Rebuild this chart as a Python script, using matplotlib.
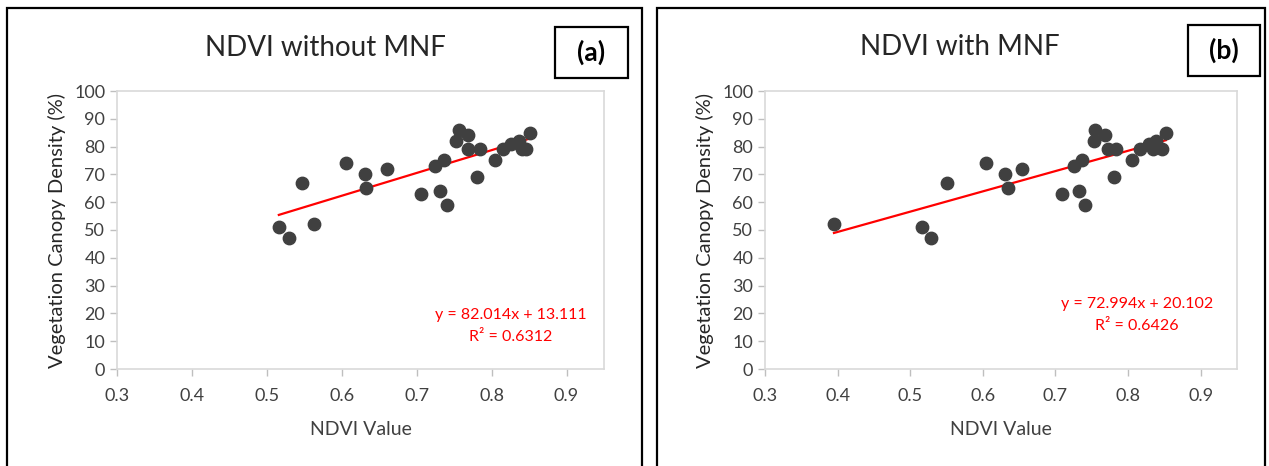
import matplotlib.pyplot as plt
from matplotlib.patches import Rectangle
import numpy as np

plt.rcParams['font.family'] = ['Lato', 'DejaVu Sans']

# canopy density (%) - same field plots in both panels
density = [51, 47, 67, 52, 74, 70, 65, 72, 63, 73, 64, 75, 59,
           82, 86, 84, 79, 69, 79, 75, 79, 81, 82, 79, 79, 85]

# NDVI without MNF
ndvi_raw = [0.516, 0.529, 0.547, 0.563, 0.605, 0.631, 0.633, 0.660, 0.706,
            0.725, 0.731, 0.736, 0.740, 0.752, 0.757, 0.769, 0.769, 0.781,
            0.784, 0.804, 0.815, 0.826, 0.837, 0.841, 0.846, 0.851]

# NDVI with MNF
ndvi_mnf = [0.516, 0.529, 0.550, 0.395, 0.605, 0.631, 0.634, 0.654, 0.709,
            0.726, 0.732, 0.737, 0.740, 0.753, 0.755, 0.768, 0.772, 0.780,
            0.783, 0.806, 0.817, 0.829, 0.838, 0.834, 0.847, 0.852]

# trendline coefficients (slope, intercept, R2) as printed on the chart
fit_raw = (82.014, 13.111, 0.6312)
fit_mnf = (72.994, 20.102, 0.6426)

xticks = [0.3, 0.4, 0.5, 0.6, 0.7, 0.8, 0.9]
yticks = list(range(0, 101, 10))

W, H = 1269, 466
fig = plt.figure(figsize=(W / 100, H / 100), dpi=100)


def px(x0, y0, x1, y1):
    # pixel box -> figure fraction [left, bottom, width, height]
    return [x0 / W, 1 - y1 / H, (x1 - x0) / W, (y1 - y0) / H]


def panel(box, ax_box, title, title_xy, tag, tag_box, x, y, fit, eq_xy):
    # outer black frame
    fig.patches.append(Rectangle((box[0] / W, -0.1), (box[1] - box[0]) / W,
                                 1.1 - box[2] / H, transform=fig.transFigure,
                                 fill=False, ec='black', lw=1.6))
    # tag box
    tx0, ty0, tx1, ty1 = tag_box
    fig.patches.append(Rectangle((tx0 / W, 1 - ty1 / H), (tx1 - tx0) / W,
                                 (ty1 - ty0) / H, transform=fig.transFigure,
                                 fill=False, ec='black', lw=1.6))
    fig.text((tx0 + tx1) / 2 / W, 1 - (ty0 + ty1) / 2 / H, tag, ha='center',
             va='center', fontsize=19, fontweight='bold')
    fig.text(title_xy[0] / W, 1 - title_xy[1] / H, title, ha='center',
             va='center', fontsize=20, color='#262626')

    ax = fig.add_axes(px(*ax_box))
    ax.scatter(x, y, s=80, color='#404040', zorder=3)
    m, b, r2 = fit
    xs = np.array([min(x), max(x)])
    ax.plot(xs, m * xs + b, color='red', lw=1.6, zorder=2)
    ax.text(eq_xy[0], eq_xy[1], f'y = {m:.3f}x + {b:.3f}\nR² = {r2:.4f}',
            color='red', ha='center', va='center', fontsize=11.5,
            linespacing=1.75)

    ax.set_xlim(0.3, 0.95)
    ax.set_ylim(0, 100)
    ax.set_xticks(xticks)
    ax.set_xticklabels([f'{t:.1f}' for t in xticks])
    ax.set_yticks(yticks)
    for s in ax.spines.values():
        s.set_color('#d9d9d9')
        s.set_linewidth(1.2)
    ax.tick_params(colors='#404040', labelsize=13, length=5, width=1,
                   color='#bfbfbf')
    ax.tick_params(axis='x', pad=9)
    ax.set_xlabel('NDVI Value', fontsize=14, color='#404040', labelpad=12)
    ax.set_ylabel('Vegetation Canopy Density (%)', fontsize=14.5,
                  color='#262626', labelpad=6)
    return ax


panel((7, 642, 8), (117, 91, 604, 369), 'NDVI without MNF', (325, 48),
      '(a)', (555, 27, 628, 78), ndvi_raw, density, fit_raw, (0.826, 15.5))
panel((657, 1265, 8), (765, 91, 1237, 369), 'NDVI with MNF', (960, 47),
      '(b)', (1188, 25, 1260, 76), ndvi_mnf, density, fit_mnf, (0.812, 19.5))

fig.savefig('out.png', dpi=100)
